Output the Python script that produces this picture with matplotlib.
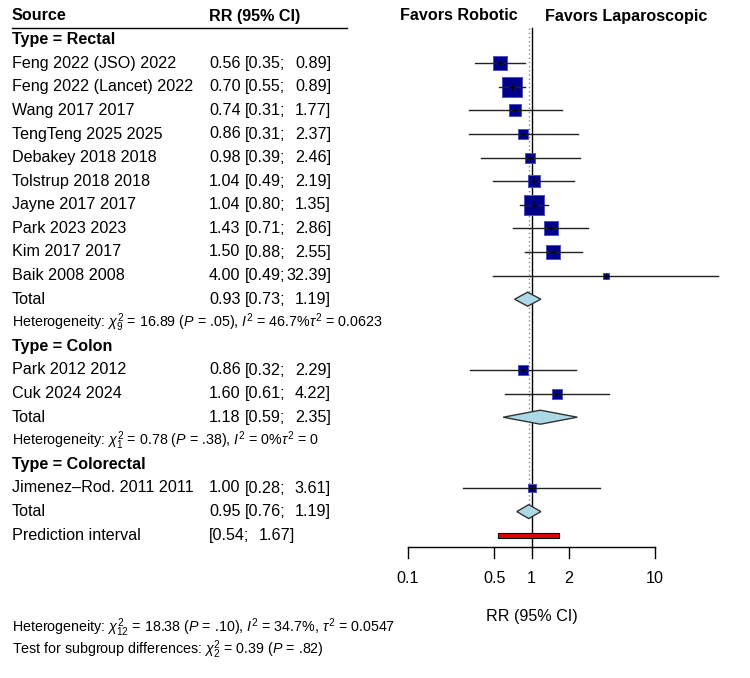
import numpy as np
import matplotlib
matplotlib.use('Agg')
import matplotlib.pyplot as plt
from matplotlib.transforms import blended_transform_factory

plt.rcParams['font.family'] = ['Liberation Sans', 'DejaVu Sans']
plt.rcParams['mathtext.fontset'] = 'custom'
plt.rcParams['mathtext.rm'] = 'Liberation Sans'
plt.rcParams['mathtext.it'] = 'Liberation Sans:italic'
plt.rcParams['mathtext.bf'] = 'Liberation Sans:bold'

# study level data
rectal_names = ['Feng 2022 (JSO) 2022', 'Feng 2022 (Lancet) 2022', 'Wang 2017 2017',
                'TengTeng 2025 2025', 'Debakey 2018 2018', 'Tolstrup 2018 2018',
                'Jayne 2017 2017', 'Park 2023 2023', 'Kim 2017 2017', 'Baik 2008 2008']
rectal_rr = [0.56, 0.70, 0.74, 0.86, 0.98, 1.04, 1.04, 1.43, 1.50, 4.00]
rectal_lo = [0.35, 0.55, 0.31, 0.31, 0.39, 0.49, 0.80, 0.71, 0.88, 0.49]
rectal_hi = [0.89, 0.89, 1.77, 2.37, 2.46, 2.19, 1.35, 2.86, 2.55, 32.39]
rectal_w = [10.3, 18.4, 5.6, 4.0, 5.2, 6.9, 17.1, 7.8, 9.9, 1.5]

colon_names = ['Park 2012 2012', 'Cuk 2024 2024']
colon_rr = [0.86, 1.60]
colon_lo = [0.32, 0.61]
colon_hi = [2.29, 4.22]
colon_w = [4.9, 5.2]

colorectal_names = ['Jimenez\u2013Rod. 2011 2011']
colorectal_rr = [1.00]
colorectal_lo = [0.28]
colorectal_hi = [3.61]
colorectal_w = [3.2]

# pooled estimates
totals = {'Rectal': (0.93, 0.73, 1.19), 'Colon': (1.18, 0.59, 2.35), 'Colorectal': None}
overall = (0.95, 0.76, 1.19)
pred_int = (0.54, 1.67)

het_rectal = r'Heterogeneity: $\chi^2_9$ = 16.89 ($P$ = .05), $I^2$ = 46.7%$\tau^2$ = 0.0623'
het_colon = r'Heterogeneity: $\chi^2_1$ = 0.78 ($P$ = .38), $I^2$ = 0%$\tau^2$ = 0'
het_overall = r'Heterogeneity: $\chi^2_{12}$ = 18.38 ($P$ = .10), $I^2$ = 34.7%, $\tau^2$ = 0.0547'
subgroup_test = r'Test for subgroup differences: $\chi^2_2$ = 0.39 ($P$ = .82)'

xticks = [0.1, 0.5, 1, 2, 10]

W, H = 750, 678
fig = plt.figure(figsize=(W / 100, H / 100), dpi=100)
ax = fig.add_axes([0, 0, 1, 1])
ax.set_xscale('log')
ppd = 123.5  # pixels per decade
ax.set_xlim(10 ** (-1 - 408 / ppd), 10 ** (-1 + (W - 408) / ppd))
row_px, top_px = 23.6, 16
ax.set_ylim((H - top_px) / row_px, -top_px / row_px)
ax.axis('off')

tr = blended_transform_factory(fig.transFigure, ax.transData)
FS = 11.6
SFS = 10.3
NAVY = '#00008B'


def px(x):
    return x / W


def rr_text(row, est, lo, hi):
    ax.text(px(209), row, f'{est:.2f}', transform=tr, fontsize=FS, va='center')
    ax.text(px(245), row, f'[{lo:.2f};', transform=tr, fontsize=FS, va='center')
    ax.text(px(331), row, f'{hi:.2f}]', transform=tr, fontsize=FS, va='center', ha='right')


def study(row, name, est, lo, hi, w):
    ax.text(px(12), row, name, transform=tr, fontsize=FS, va='center')
    rr_text(row, est, lo, hi)
    side = 4.66 * np.sqrt(w) * 0.72
    ax.scatter([est], [row], marker='s', s=side ** 2, color=NAVY,
               edgecolor='#5050c0', linewidth=0.7, zorder=3)
    ax.plot([lo, hi], [row, row], color='#222222', lw=1.0, zorder=4)
    ax.plot([est], [row], marker='+', color='black', ms=4, mew=0.7, zorder=5)


def diamond(row, est, lo, hi):
    h = 7 / row_px
    ax.fill([lo, est, hi, est], [row, row - h, row, row + h],
            facecolor='#ADD8E6', edgecolor='#333333', lw=1.0, zorder=4)


# header
ax.text(px(12), 0, 'Source', transform=tr, fontsize=FS, weight='bold', va='center')
ax.text(px(209), 0, 'RR (95% CI)', transform=tr, fontsize=FS, weight='bold', va='center')
ax.plot([px(12), px(347)], [0.5, 0.5], transform=tr, color='black', lw=1.0)
ax.text(px(518), 0, 'Favors Robotic', transform=tr, fontsize=FS, weight='bold',
        va='center', ha='right')
ax.text(px(545), 0, 'Favors Laparoscopic', transform=tr, fontsize=FS, weight='bold',
        va='center', ha='left')

groups = [('Rectal', rectal_names, rectal_rr, rectal_lo, rectal_hi, rectal_w, het_rectal),
          ('Colon', colon_names, colon_rr, colon_lo, colon_hi, colon_w, het_colon),
          ('Colorectal', colorectal_names, colorectal_rr, colorectal_lo, colorectal_hi,
           colorectal_w, None)]

row = 1
for gname, names, rr, lo, hi, w, het in groups:
    ax.text(px(12), row, f'Type = {gname}', transform=tr, fontsize=FS,
            weight='bold', va='center')
    row += 1
    for i in range(len(names)):
        study(row, names[i], rr[i], lo[i], hi[i], w[i])
        row += 1
    if totals[gname] is not None:
        est, l, h = totals[gname]
        ax.text(px(12), row, 'Total', transform=tr, fontsize=FS, va='center')
        rr_text(row, est, l, h)
        diamond(row, est, l, h)
        row += 1
    if het is not None:
        ax.text(px(12), row, het, transform=tr, fontsize=SFS, va='center')
        row += 1

# overall
ax.text(px(12), row, 'Total', transform=tr, fontsize=FS, va='center')
rr_text(row, *overall)
diamond(row, *overall)
overall_row = row
row += 1
ax.text(px(12), row, 'Prediction interval', transform=tr, fontsize=FS, va='center')
ax.text(px(209), row, f'[{pred_int[0]:.2f};', transform=tr, fontsize=FS, va='center')
ax.text(px(295), row, f'{pred_int[1]:.2f}]', transform=tr, fontsize=FS, va='center', ha='right')
ph = 2.3 / row_px
ax.fill([pred_int[0], pred_int[1], pred_int[1], pred_int[0]],
        [row - ph, row - ph, row + ph, row + ph],
        facecolor='#E00000', edgecolor='black', lw=0.8, zorder=4)
pred_row = row

# reference lines
axis_y = pred_row + 0.5
ax.plot([1, 1], [0.5, axis_y], color='black', lw=1.0, zorder=2)
ax.plot([overall[0], overall[0]], [0.5, overall_row - 7 / row_px], color='#888888',
        lw=1.0, ls=(0, (1, 2)), zorder=1)

# x axis
ax.plot([xticks[0], xticks[-1]], [axis_y, axis_y], color='black', lw=1.0)
for t in xticks:
    ax.plot([t, t], [axis_y, axis_y + 11 / row_px], color='black', lw=1.0)
    ax.text(t, axis_y + 31 / row_px, f'{t:g}', fontsize=FS, ha='center', va='center')
ax.text(1, axis_y + 70 / row_px, 'RR (95% CI)', fontsize=FS, ha='center', va='center')

ax.text(px(12), (628 - top_px) / row_px, het_overall, transform=tr, fontsize=SFS, va='center')
ax.text(px(12), (650 - top_px) / row_px, subgroup_test, transform=tr, fontsize=SFS, va='center')

fig.savefig('out.png', dpi=100)
